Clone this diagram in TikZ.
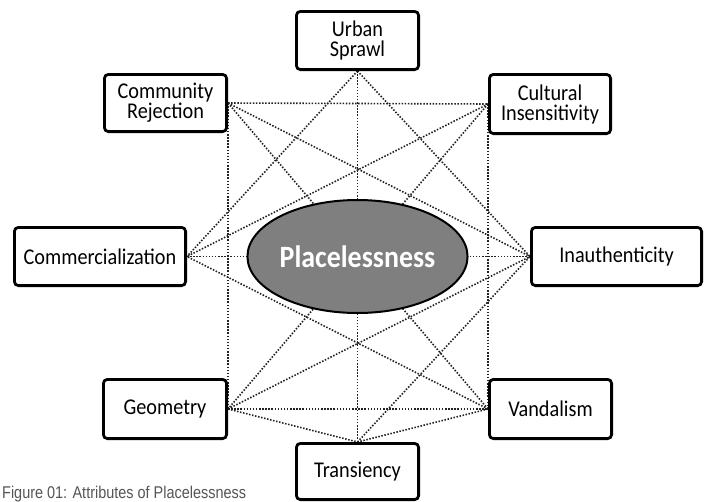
\documentclass[tikz,border=0pt]{standalone}
\usepackage{fontspec}
\setmainfont{Carlito}[FakeStretch=0.9]
\newfontfamily\capfont{Liberation Sans}[FakeStretch=0.85]
\usetikzlibrary{shapes.geometric,backgrounds}
\definecolor{elfill}{HTML}{7F7F7F}
\definecolor{dotcol}{HTML}{222222}
\definecolor{capcol}{HTML}{555555}
\tikzset{
  attr/.style={draw=black, line width=2.8pt, rounded corners=4pt, fill=white,
    align=center, inner sep=0pt, font=\fontsize{22.5}{20}\selectfont},
  link/.style={draw=dotcol, line width=1.6pt, dash pattern=on 1.5pt off 1.6pt},
}
\begin{document}
\begin{tikzpicture}[x=1pt,y=-1pt]
\useasboundingbox (0,0) rectangle (707,501);
% attribute boxes (outer size minus border width)
\node[attr, minimum width=122.2pt, minimum height=58.2pt] (US)  at (357.5,40.5) {Urban\\Sprawl};
\node[attr, minimum width=122.2pt, minimum height=57.2pt] (CR)  at (165.5,103) {Community\\Rejection};
\node[attr, minimum width=121.2pt, minimum height=59.2pt] (CI)  at (550,104) {Cultural\\Insensitivity};
\node[attr, minimum width=171.2pt, minimum height=58.2pt] (Com) at (100,256.5) {Commercialization};
\node[attr, minimum width=170.2pt, minimum height=58.2pt] (Ina) at (616.5,256.5) {Inauthenticity};
\node[attr, minimum width=123.2pt, minimum height=59.2pt] (Geo) at (165,409) {Geometry};
\node[attr, minimum width=122.2pt, minimum height=59.2pt] (Van) at (550.5,409) {Vandalism};
\node[attr, minimum width=122.2pt, minimum height=56.2pt] (Tra) at (357.5,471.5) {Transiency};
% central ellipse
\node[ellipse, draw=black, line width=2pt, fill=elfill, inner sep=0pt,
      minimum width=207pt, minimum height=113pt, text=white,
      font=\fontsize{31}{31}\selectfont\bfseries] (E) at (357.5,256.5) {Placelessness};
% caption
\node[anchor=base west, inner sep=0pt, text=capcol,
      font=\capfont\fontsize{17}{17}\selectfont] (cap) at (2,498) {Figure 01: Attributes of Placelessness};
% dotted connectors behind everything
\begin{pgfonlayer}{background}
\draw[link] (US.south) -- (E.north);
\draw[link] (Tra.north) -- (E.south);
\draw[link] (Com.east) -- (E.west);
\draw[link] (Ina.west) -- (E.east);
\draw[link] (US.south) -- (Com.east);
\draw[link] (US.south) -- (Ina.west);
\draw[link] (Tra.north) -- (Ina.west);
\draw[link] (CR.east) -- (CI.west);
\draw[link] (Geo.east) -- (Van.west);
\draw[link] (CR.east) -- (Geo.east);
\draw[link] (CI.west) -- (Van.west);
\draw[link] (CR.east) -- (Ina.west);
\draw[link] (CI.west) -- (Com.east);
\draw[link] (Geo.east) -- (Ina.west);
\draw[link] (Van.west) -- (Com.east);
\draw[link] (CR.east) -- (Van.west);
\draw[link] (CI.west) -- (Geo.east);
\draw[link] (Geo.east) -- (Tra.north);
\draw[link] (Van.west) -- (Tra.north);
\end{pgfonlayer}
\end{tikzpicture}
\end{document}
